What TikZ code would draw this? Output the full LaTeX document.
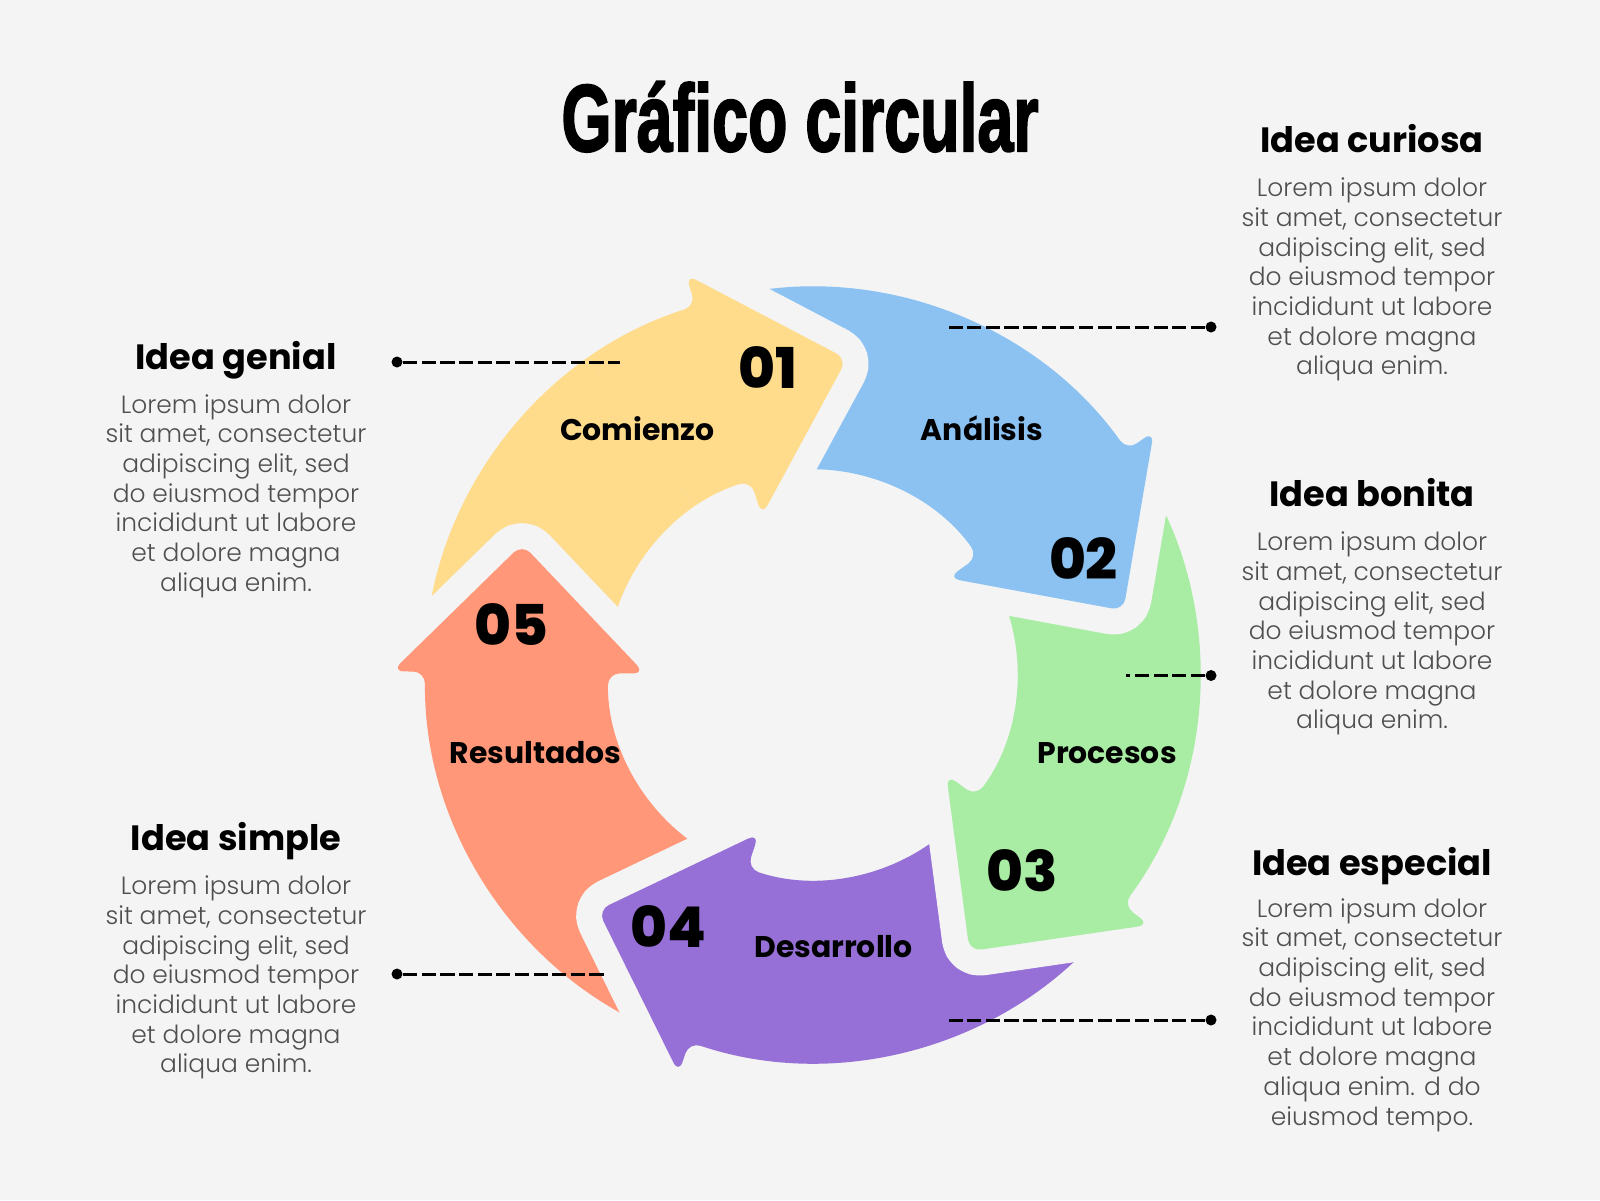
\documentclass[tikz,border=0pt]{standalone}
\usepackage{fontspec}
\setmainfont{Poppins}
\newfontfamily\titlefont{Liberation Sans}[FakeBold=2.4]
\newfontfamily\loremfont{Poppins Light}
\newfontfamily\numfont{Poppins ExtraBold}
\usetikzlibrary{positioning}

\definecolor{bgc}{HTML}{F4F4F4}
\definecolor{yel}{HTML}{FFDC8C}
\definecolor{blu}{HTML}{8CC2F2}
\definecolor{grn}{HTML}{A9EDA5}
\definecolor{pur}{HTML}{9670D6}
\definecolor{sal}{HTML}{FF9778}
\definecolor{txtgray}{HTML}{4F4F4F}

\newcommand\loremtxt{Lorem ipsum dolor\\sit amet, consectetur\\adipiscing elit, sed\\do eiusmod tempor\\incididunt ut labore\\et dolore magna\\aliqua enim.}

\begin{document}
\begin{tikzpicture}[
    heading/.style={font=\bfseries\fontsize{10}{12}\selectfont, anchor=base, inner sep=0pt},
    % base anchor of a block = baseline of its last line
    lorem/.style={font=\loremfont\fontsize{7.1}{8.45}\selectfont, text=txtgray, align=center, anchor=base, inner sep=0pt},
    steplabel/.style={font=\bfseries\fontsize{8.5}{10}\selectfont, anchor=base, inner sep=0pt},
    stepnum/.style={font=\numfont\fontsize{16}{18}\selectfont, inner sep=0pt},
    leaddot/.style={circle, fill=black, inner sep=0pt, minimum size=0.11cm},
    leader/.style={line width=0.85pt, dash pattern=on 4pt off 1.3pt},
    % one ring segment: #1 colour, #2 angle of the head base
    ringarrow/.style 2 args={fill=#1, rounded corners=0.12cm,
      preaction={draw=bgc, line width=0.52cm, line join=round},
      insert path={(#2+72:3.87) arc[start angle=#2+72, end angle=#2, radius=3.87]
        -- (#2:4.20) -- (#2-23.8:3.18) -- (#2:1.67) -- (#2:2.04)
        arc[start angle=#2, end angle=#2+72, radius=2.04] -- cycle}},
  ]
  \fill[bgc] (0,0) rectangle (16,-12);

  \node[font=\titlefont\bfseries\fontsize{27}{30}\selectfont, xscale=0.68, anchor=base] (title) at (8.00,-1.51) {Gráfico circular};

  % the ring
  \begin{scope}[shift={(8.12,-6.75)}]
    \foreach \col/\ang in {yel/107.5, sal/179.5, pur/251.5, grn/323.5, blu/35.5}
      \path[ringarrow={\col}{\ang}];
    \begin{scope}
      \clip (0,0) -- (125:5) arc[start angle=125, end angle=40, radius=5] -- cycle;
      \path[ringarrow={yel}{107.5}];
    \end{scope}
  \end{scope}

  \node[stepnum] (n1) at (7.68,-3.68) {01};
  \node[stepnum] (n2) at (10.835,-5.585) {02};
  \node[stepnum] (n3) at (10.225,-8.705) {03};
  \node[stepnum] (n4) at (6.685,-9.265) {04};
  \node[stepnum] (n5) at (5.115,-6.25) {05};

  \node[steplabel] (s1) at (6.375,-4.40) {Comienzo};
  \node[steplabel] (s2) at (9.82,-4.40) {Análisis};
  \node[steplabel] (s3) at (11.07,-7.63) {Procesos};
  \node[steplabel] (s4) at (8.335,-9.57) {Desarrollo};
  \node[steplabel] (s5) at (5.355,-7.63) {Resultados};

  % side texts
  \node[heading] (hgenial) at (2.36,-3.69) {Idea genial};
  \node[lorem] (lgenial) at (2.36,-5.912) {\loremtxt};
  \node[heading] (hsimple) at (2.36,-8.506) {Idea simple};
  \node[lorem] (lsimple) at (2.36,-10.728) {\loremtxt};
  \node[heading] (hcuriosa) at (13.72,-1.527) {Idea curiosa};
  \node[lorem] (lcuriosa) at (13.72,-3.749) {\loremtxt};
  \node[heading] (hbonita) at (13.72,-5.067) {Idea bonita};
  \node[lorem] (lbonita) at (13.72,-7.289) {\loremtxt};
  \node[heading] (hespecial) at (13.72,-8.75) {Idea especial};
  \node[lorem] (lespecial) at (13.72,-11.25) {Lorem ipsum dolor\\sit amet, consectetur\\adipiscing elit, sed\\do eiusmod tempor\\incididunt ut labore\\et dolore magna\\aliqua enim. d do\\eiusmod tempo.};

  % leader lines
  \node[leaddot] (dgenial) at (3.97,-3.62) {};
  \coordinate (egenial) at (6.20,-3.62);
  \node[leaddot] (dsimple) at (3.97,-9.74) {};
  \coordinate (esimple) at (6.08,-9.74);
  \node[leaddot] (dcuriosa) at (12.11,-3.27) {};
  \coordinate (ecuriosa) at (9.49,-3.27);
  \node[leaddot] (dbonita) at (12.11,-6.755) {};
  \coordinate (ebonita) at (11.255,-6.755);
  \node[leaddot] (despecial) at (12.11,-10.20) {};
  \coordinate (eespecial) at (9.49,-10.20);
  \foreach \nm in {genial,simple,curiosa,bonita,especial}
    \draw[leader] (d\nm) -- (e\nm);
\end{tikzpicture}
\end{document}
